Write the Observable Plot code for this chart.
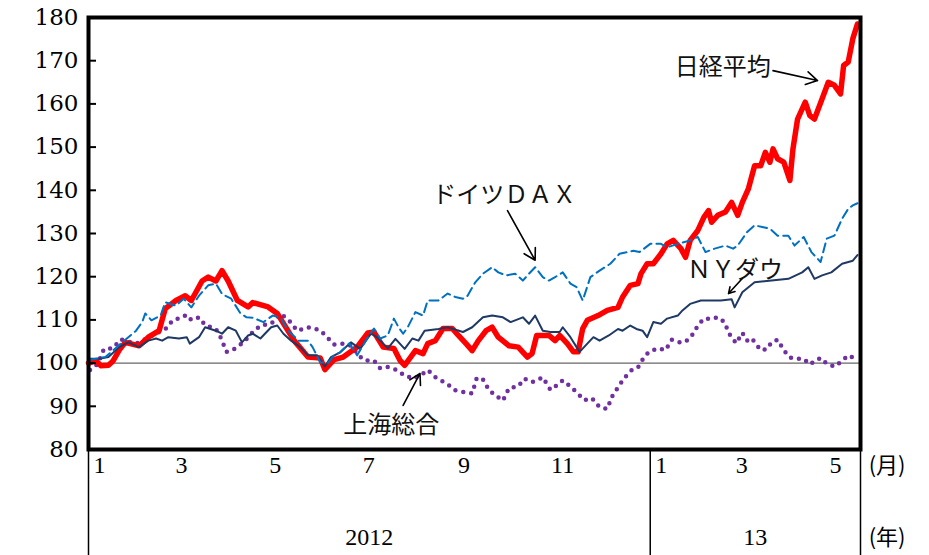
<!DOCTYPE html>
<html>
<head>
<meta charset="utf-8">
<script src="https://cdn.jsdelivr.net/npm/d3@7"></script>
<script src="https://cdn.jsdelivr.net/npm/@observablehq/plot@0.6"></script>
<style>
  html, body { margin: 0; padding: 0; background: #fff; }
  #chart svg { display: block; }
</style>
</head>
<body>
<div id="chart"></div>
<script>
// ---- data: index (start of 2012 = 100); x = days since 2012-01-01 ----
const nikkeiDay = [0,5,8,13,16,20,24,33,39,46,50,57,63,67,74,78,83,87,91,97,104,107,117,123,127,134,143,151,154,160,166,175,182,186,192,199,203,206,213,218,221,226,231,237,241,246,250,254,259,263,267,274,280,286,289,292,300,304,307,312,316,319,322,325,332,338,345,348,353,358,360,364,368,373,377,381,386,389,392,397,401,404,406,410,415,419,423,426,430,434,438,441,444,446,449,453,457,459,462,467,470,473,478,482,486,490,492,495,498,501,502];
const nikkeiVal = [100,100.5,99.4,99.5,100.5,103,104.8,104,106,107.5,112.6,114.5,115.6,114.5,119,119.9,119,121.4,119,114.5,113,114,113,111.5,109.2,105.2,101.4,101.2,98.5,100.8,101.4,103.7,107,107.2,103.7,103.4,100.6,99.5,102.9,102.2,104.5,105.2,108,108,106.4,104.5,102.9,105.2,107.5,108.3,106,104,103.7,101.4,102.2,106.4,106.4,105.2,106.4,104.5,102.6,102.6,108,109.9,111,112.2,112.9,115.3,118,118.4,120.7,123,123,125.3,127.6,128.4,126.5,124.5,128.4,130.7,133.8,135.3,132.6,134.2,135,137.2,134.2,137.2,140.4,145.7,145.7,148.8,146.5,149.6,147.3,146.5,142.3,149.6,156.5,160.4,157.3,156.5,161.2,165,164.3,162.3,168.9,169.7,175.1,178.5,178];

const daxDay = [0,11,21,31,35,37,41,47,50,57,62,67,72,78,83,87,93,99,103,107,114,120,125,130,137,143,146,151,156,160,164,170,175,182,186,190,195,199,202,205,208,213,218,221,228,234,239,244,247,252,257,263,267,272,278,283,287,291,296,300,304,309,314,318,322,327,333,340,346,355,359,366,373,377,384,392,397,402,408,415,420,423,429,434,439,444,449,456,460,466,471,477,481,486,491,495,498,501];
const daxVal = [100.7,101.4,104.5,107.5,109.5,111.5,109.9,111,114.1,113.3,114.9,112.9,115.6,118,118.4,116,114.9,111.5,110.6,110.5,109.5,111,110.6,107.5,105.2,105.2,103.7,100.2,100,101.8,102.5,104.6,101.8,106,108,105.7,106.4,110.3,108.3,106.8,108.3,111.8,111,114.5,114.5,116.1,115.3,114.9,115.6,118.7,120.7,122.2,121,120.3,120.7,119.1,120.7,122.2,119.9,119.1,119.9,121,118.4,117.6,114.5,119.9,121.4,123,125.3,126,125.7,127.6,127.6,126.8,127.6,128.4,129.2,125.7,126.5,127.2,126.5,127.2,130.3,131.9,131.5,131.1,129.5,129.5,127.2,129.2,125.7,123.4,128.8,129.5,133.4,135.7,136.5,137];

const dowDay = [0,7,13,20,26,33,39,44,48,52,59,64,66,72,76,83,87,91,96,100,104,107,112,119,123,127,132,138,143,149,154,158,164,171,177,184,188,195,200,206,211,215,219,228,234,244,250,257,263,270,275,283,287,291,296,301,307,309,314,318,320,325,329,333,339,345,348,353,357,361,364,368,373,377,384,387,392,399,405,412,419,421,426,434,445,456,465,469,473,478,484,491,498,501];
const dowVal = [101,101,101.4,103.7,104.8,103.7,105.2,105.7,105.2,106,105.7,106,104.5,106,108.3,107.5,106.8,108.3,107.5,104.8,106.4,106.8,105.7,108.3,108.7,106.8,105.2,103.7,101.8,101.8,99.2,101.4,102.5,104.8,103.3,106.8,106,103.4,105.6,103.3,105.7,105.2,107.5,107.9,108.3,107.2,108.3,110.6,111,110.6,109.5,110.6,109.1,111,107.5,107.2,107.2,108.3,106,103.7,102.6,104.5,106,105.2,106.4,107.9,107.5,108.7,107.9,107.5,106,109.5,109.1,110.3,111,112.2,113.7,114.5,114.5,114.5,114.8,112.9,116.4,118.7,119.1,119.5,121,122.2,119.5,120.3,121,123,123.7,125];

const shanghaiDay = [1,6,10,16,21,31,38,46,50,55,60,64,67,72,76,83,86,90,94,101,106,112,119,125,130,136,143,151,156,160,167,171,176,180,186,190,195,201,206,212,218,221,227,233,239,246,250,253,257,261,266,270,274,280,284,289,296,301,305,309,314,319,323,328,333,338,341,345,349,354,358,361,365,371,376,380,385,389,394,397,401,406,410,414,418,422,426,429,432,438,442,445,449,453,457,462,466,470,474,477,481,486,491,495,500];
const shanghaiVal = [98.4,99.8,103.2,103.5,105.5,104.5,105.7,107.2,107.8,110,110.4,111.2,110,110.6,108.8,107.9,106,102.6,103,104.8,106.8,108.7,109.1,111.4,110.2,107.5,108.3,107.6,105.8,104.3,104.5,104,101.8,100.6,100.6,98.8,99.1,98.4,97.1,96.4,97.6,98.4,96.4,95.4,93.7,93.2,93,96.6,96.2,93.7,92.3,91.3,94.2,94.6,96.4,95.6,96.7,93.8,94.8,96,94.6,92.9,91.4,91.9,89.8,89.4,92.2,94.4,96.5,98.4,99,100.8,102.6,103.4,103,105.4,104.8,104.9,106.8,108.7,110.3,110.2,110.6,109.6,106.5,104.6,107,105.2,105.8,103,103.2,104.8,105.4,103,101.3,101,101,99.7,100.6,101.2,99.9,99.2,100.5,101.8,101];

const yTicks = [80, 90, 100, 110, 120, 130, 140, 150, 160, 170, 180];
const monthLabels = ["1", "3", "5", "7", "9", "11", "1", "3", "5"];
const monthStarts = ["2012-01-01","2012-03-01","2012-05-01","2012-07-01","2012-09-01","2012-11-01","2013-01-01","2013-03-01","2013-05-01"];
const yearLabels = ["2012", "13"];
const yearBounds = ["2012-01-01", "2013-01-01", "2013-05-18"];

// annotations (label text, anchor in data space, arrow from/to)
const annoText = ["日経平均", "ドイツＤＡＸ", "ＮＹダウ", "上海総合"];
const annoDate = ["2013-01-17", "2012-08-12", "2013-01-25", "2012-06-15"];
const annoValue = [168.4, 138.8, 121.4, 85.6];
const arrowFromDate = ["2013-03-22", "2012-09-30", "2013-03-02", "2012-07-24"];
const arrowFromValue = [167.7, 135.3, 119.6, 90.2];
const arrowToDate = ["2013-04-20", "2012-10-18", "2013-02-21", "2012-08-04"];
const arrowToValue = [165.4, 123.8, 116.1, 97.6];

// ---- build tables ----
const parse = d3.utcParse("%Y-%m-%d");
const origin = parse("2012-01-01");
const rows = (days, vals) => days.map((d, i) => ({date: d3.utcDay.offset(origin, d), value: vals[i]}));
const months = monthLabels.map((l, i) => ({label: l, date: parse(monthStarts[i])}));
const bounds = yearBounds.map(parse);
const years = yearLabels.map((l, i) => ({label: l, date: new Date((+bounds[i] + +bounds[i + 1]) / 2)}));
const annos = annoText.map((t, i) => ({
  text: t, date: parse(annoDate[i]), value: annoValue[i],
  x1: parse(arrowFromDate[i]), y1: arrowFromValue[i],
  x2: parse(arrowToDate[i]), y2: arrowToValue[i]
}));

const serif = "'DejaVu Serif', 'Liberation Serif', serif";
const numSerif = "'Liberation Serif', 'DejaVu Serif', serif";
const jp = "'Noto Sans CJK JP', 'Noto Sans', sans-serif";

const chart = Plot.plot({
  width: 929,
  height: 555,
  marginLeft: 88,
  marginRight: 69,
  marginTop: 17,
  marginBottom: 106,
  style: {background: "#fff", overflow: "visible"},
  x: {type: "utc", domain: [bounds[0], bounds[2]], axis: null},
  y: {domain: [80, 180], axis: null},
  marks: [
    Plot.ruleY([100], {stroke: "#404040", strokeWidth: 1}),
    Plot.line(rows(shanghaiDay, shanghaiVal), {x: "date", y: "value", stroke: "#7030A0", strokeWidth: 4.5, strokeDasharray: "0,8", strokeLinecap: "round"}),
    Plot.line(rows(nikkeiDay, nikkeiVal), {x: "date", y: "value", stroke: "#FF0000", strokeWidth: 5.5, strokeLinejoin: "round"}),
    Plot.line(rows(dowDay, dowVal), {x: "date", y: "value", stroke: "#1F3864", strokeWidth: 2}),
    Plot.line(rows(daxDay, daxVal), {x: "date", y: "value", stroke: "#0070C0", strokeWidth: 2, strokeDasharray: "9,5"}),
    // inward y ticks
    Plot.tickY(yTicks, {y: d => d, insetRight: 764, stroke: "#000", strokeWidth: 2}),
    Plot.text(yTicks, {y: d => d, text: d => String(d), frameAnchor: "left", dx: -10, textAnchor: "end", fontSize: 23, fontFamily: serif, fill: "#000"}),
    Plot.frame({stroke: "#000", strokeWidth: 4}),
    // category separators below the plot
    Plot.tickX(bounds, {x: d => d, insetTop: 432, insetBottom: -106, stroke: "#000", strokeWidth: 1.5}),
    Plot.text(months, {x: "date", text: "label", frameAnchor: "bottom", dy: 23, fontSize: 24, fontFamily: numSerif, fill: "#000"}),
    Plot.text(years, {x: "date", text: "label", frameAnchor: "bottom", dy: 95, fontSize: 24, fontFamily: numSerif, fill: "#000"}),
    Plot.text(["(月)"], {text: d => d, frameAnchor: "bottom-right", dx: 45, dy: 23, fontSize: 22, fontFamily: jp, fill: "#000"}),
    Plot.text(["(年)"], {text: d => d, frameAnchor: "bottom-right", dx: 45, dy: 95, fontSize: 22, fontFamily: jp, fill: "#000"}),
    // annotations
    Plot.arrow(annos, {x1: "x1", y1: "y1", x2: "x2", y2: "y2", stroke: "#000", strokeWidth: 1.6, headLength: 12}),
    Plot.text(annos, {x: "date", y: "value", text: "text", textAnchor: "start", fontSize: 24, fontFamily: jp, fill: "#111"})
  ]
});

// month label fine positioning (Jan labels sit right of the separator)
const monthTexts = chart.querySelectorAll("g[aria-label='text']")[1];
if (monthTexts) {
  monthTexts.querySelectorAll("text").forEach((t, i) => {
    const l = monthLabels[i];
    const off = l === "1" ? 11 : (l === "11" ? 6 : 1);
    t.setAttribute("dx", off);
  });
}
document.getElementById("chart").appendChild(chart);
</script>
</body>
</html>
